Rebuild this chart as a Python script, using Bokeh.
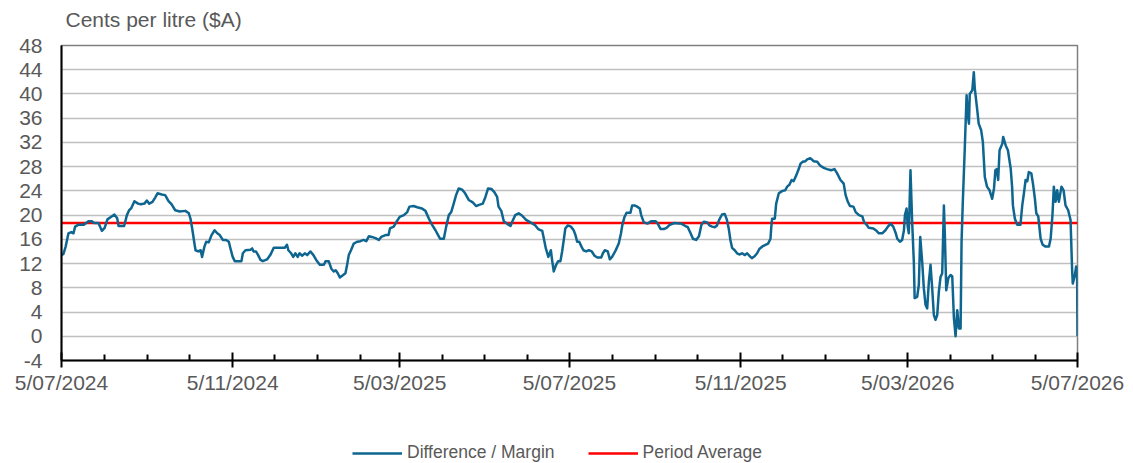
import pandas as pd
from bokeh.plotting import figure
from bokeh.layouts import column
from bokeh.models import (Range1d, FixedTicker, CustomJSTickFormatter, Legend,
                          LegendItem, Label)
from bokeh.embed import file_html
from bokeh.resources import INLINE

# ---------------- data ----------------
start_date = "2024-07-05"
end_date = "2026-07-05"

day_offset = [
    0, 1.4, 3, 5, 7, 8.6, 9.8, 12, 16, 19.4, 21.8, 23.4, 26.6, 29, 31, 33, 35.5, 38, 40, 41,
    45, 47, 48.6, 50, 52.4, 55, 57, 59.6, 61.3, 63, 65.4, 67.3, 69, 72, 74.5, 76.9, 79, 81.7, 85, 89,
    91.5, 92.7, 93.9, 95, 96.3, 98.2, 100, 101, 102.7, 104, 105.8, 107.8, 110, 111.9, 113.7, 115.9,
    118.3, 120.2, 121.4, 123, 124.5, 129.3, 130.3, 132.2, 135.8, 137, 138, 139.7, 141.3, 143, 144.6,
    147.8, 150, 152.5, 156, 160.4, 162, 163, 165, 166.5, 168, 169.7, 171, 173, 174.8, 176.5, 178.9,
    181, 183, 185.6, 188.5, 189.7, 192, 193.8, 195.6, 197, 198.5, 200, 201.7, 204, 205, 206.4, 208,
    210, 212.4, 214.8, 217, 219, 220.8, 223, 225.6, 228, 229.7, 232.8, 235, 236, 238.7, 240.7, 243,
    246, 248.4, 250, 253, 255.6, 259, 261.5, 264, 266.3, 268.7,
    270.6, 272, 274.7, 276.4, 278.3, 280, 281.8, 283.5, 285.4, 287.9, 290, 292.6, 295.5, 298, 300,
    302.7, 304.6, 306.5, 309, 311, 313, 314, 316, 317.8, 320, 322.6, 324, 326, 328.5, 331, 333.8,
    337, 340, 342.5, 345.4, 346.6, 348, 349.8, 350.8, 351.6, 352.6, 353.7, 355.4, 356.9, 358.5,
    359.7, 361, 362,
    363.8, 366, 368, 369.3, 370.5, 372, 373.6, 375, 377, 378.9, 381, 383, 385, 387.8, 389, 390.4,
    392.5, 394, 395.6, 398, 400.4, 402, 403, 404.5, 406, 408.8, 410, 411.7, 413.6, 415.5, 416.5,
    418.4, 421, 423.6, 426.8, 428.4, 430.4, 432.8, 434.7, 437, 440.4, 443.5, 445.2, 448.3,
    450, 452, 453.7, 456, 458, 459.8, 461.5, 464, 465.5, 467.5, 469.4, 471, 472.7, 474.6, 476.5,
    478, 479.4, 480.6, 481.8, 483.7, 485.4, 487, 489, 491, 492.6, 495, 496, 498, 499.8, 501.4, 504,
    505.8, 507.7, 509.4, 510, 510.6, 512.5, 513.5, 515.4, 518, 520, 521.4, 523, 524.6, 526, 528,
    529.7, 531, 532.6, 534.5, 535.8, 538,
    540.5, 543, 545, 547.7, 550, 553, 555.4, 557.3, 559.7, 562, 563.4, 565, 566.5, 569, 570.6, 573,
    575.4, 576.6, 578.5, 580, 583.3, 585.6, 587.3, 589.7, 592, 593.8, 595.7, 597.6, 599.3, 600.5,
    602.4, 604, 605.3, 606, 607.2, 608, 608.8, 610, 611.2, 612.4, 613, 614.8, 616, 617, 618.4,
    619.6, 620.8, 622, 623.2, 624.4, 625.6, 626.8, 628, 629.2, 630.4, 631.6,
    632.8, 634, 634.7, 635.7, 637.2, 638.8, 640, 641.2, 642.4, 643.6, 644.8, 646, 646.7, 647.6, 649,
    650.3, 651.2, 652, 652.6, 654.4, 655.5, 656.2, 658, 659, 660.8, 662, 663.4, 665, 666.8, 668.7,
    670, 671, 672, 673, 674, 676, 676.6, 678.4, 680, 682, 683, 683.6, 685, 686.7, 689, 690.3, 691.5,
    692.7, 693.9, 695, 696.8, 698, 699.4, 700.4, 701.8, 703.5, 705, 707, 709.5, 710.7, 712, 713,
    714.2, 715.4, 716.6, 718.5, 720, 721.4, 723.3, 725, 726.1, 726.6, 728, 729, 729.7, 730,
]

margin_values = [
    13.4, 13.6, 14.8, 17.0, 17.2, 17.0, 18.1, 18.4, 18.4, 19.0, 19.0, 18.7, 18.7, 17.4, 17.9, 19.3,
    19.7, 20.1, 19.5, 18.2, 18.2, 20.0, 20.8, 21.1, 22.3, 21.9, 21.8, 21.9, 22.4, 21.9, 22.2, 22.9,
    23.6, 23.4, 23.3, 22.3, 21.8, 20.8, 20.6, 20.7,
    20.3, 19.4, 17.8, 16.1, 14.2, 14.0, 14.2, 13.1, 14.8, 15.6, 15.5, 16.7, 17.5, 17.0, 16.7, 15.9,
    15.9, 15.6, 14.5, 13.1, 12.4, 12.4, 13.7, 14.2, 14.3, 14.5, 14.0, 14.0, 13.4, 12.6, 12.4,
    12.7, 13.4, 14.6, 14.6, 14.6, 15.1, 14.2, 13.7, 13.1, 13.7, 13.1, 13.7, 13.3, 13.7, 13.4, 14.0,
    13.4, 12.6, 11.8, 11.8, 12.4, 12.4, 11.2, 10.7, 10.9, 10.4, 9.7, 10.0, 10.4, 11.5, 13.4, 14.2,
    15.3, 15.6, 15.7, 15.9, 15.7, 16.5, 16.4, 16.2, 15.9, 16.4, 16.7, 16.7, 17.8, 18.1, 18.9, 19.7,
    20.0, 20.5, 21.4, 21.5, 21.3, 21.1, 20.7, 19.4, 18.4, 17.5,
    16.7, 16.1, 16.1, 18.1, 20.0, 20.5, 21.9, 23.3, 24.4, 24.2, 23.6, 22.5, 22.1, 21.5, 21.7,
    21.9, 23.0, 24.4, 24.3, 23.8, 23.0, 21.4, 20.7, 19.0, 18.6, 18.2, 19.0, 20.0, 20.3, 19.9, 19.2,
    18.8, 18.4, 17.7, 17.4, 16.1, 14.5, 13.1, 13.7, 14.2, 12.4, 10.7, 11.8, 12.4, 12.4,
    14.0, 16.1, 17.8,
    18.3, 18.1, 17.5, 16.7, 15.6, 15.6, 14.8, 14.2, 14.0, 14.2, 14.0, 13.3, 13.0, 13.0, 13.7, 14.2,
    14.0, 12.7, 13.1, 14.1, 15.3, 17.0, 18.4, 19.7, 20.4, 20.4, 21.6, 21.6, 21.4, 21.1, 20.0,
    18.8, 18.6, 19.0, 19.0, 18.6, 17.7, 17.7, 17.9, 18.4, 18.7, 18.6, 18.6, 18.2,
    18.0, 17.0, 16.1, 15.9, 16.5, 18.4, 18.9, 18.8, 18.3, 18.1, 18.0, 18.3, 19.3, 20.1, 20.2,
    19.3, 17.8, 15.9, 14.6, 14.2, 13.7, 13.5, 13.7, 13.4, 13.7, 13.1, 12.9, 13.2, 13.7, 14.4, 14.9,
    15.1, 15.3, 16.1, 18.1, 19.4, 19.4, 21.9, 23.6, 24.0, 24.1, 24.7, 25.0, 25.8, 25.6, 26.6,
    27.6, 28.5, 28.8, 28.9, 29.2, 29.4,
    28.9, 28.8, 28.2, 27.8, 27.6, 27.4, 27.6, 26.9, 25.8, 25.2, 23.3, 22.2, 21.5, 21.4, 20.5, 20.0,
    19.8, 18.9, 18.4, 17.9, 17.8, 17.4, 17.0, 17.0, 17.5, 18.1, 18.6, 18.1, 17.1, 16.1,
    15.6, 15.9, 17.5, 20.0, 21.1, 18.1, 17.0, 27.4, 18.9, 12.3, 6.3, 6.5, 8.5, 16.4, 12.3,
    7.9, 5.2, 4.6, 9.0, 11.8, 7.9, 3.5, 2.7, 3.5, 7.4, 9.8,
    10.4, 21.6, 16.7, 7.6, 9.6, 10.1, 9.9, 3.0, 0.0, 4.3, 1.3, 1.3, 15.6, 22.2, 31.0,
    39.8, 36.5, 35.1, 40.0, 40.6, 43.6, 40.9, 37.3, 35.1, 34.0, 32.1, 26.3, 24.7, 24.1, 22.7,
    24.4, 27.4, 27.6, 25.8, 30.7, 31.8, 32.9, 31.5, 30.7, 27.7, 24.7, 21.6, 19.4, 18.4, 18.4, 21.6, 23.6,
    25.8, 25.6, 27.1, 26.9, 25.2, 22.7, 20.3, 19.8, 16.1, 15.1, 14.8, 14.8, 16.1, 20.0, 24.7,
    22.2, 24.1, 22.2, 24.7, 24.1, 21.6, 20.8, 19.2, 11.2, 8.7, 9.9, 11.5, 11.2, 0.0,
]

period_average = 18.7

major_tick_dates = ["2024-07-05", "2024-11-05", "2025-03-05", "2025-07-05",
                    "2025-11-05", "2026-03-05", "2026-07-05"]
y_ticks = list(range(-4, 49, 4))

series_label = "Difference / Margin"
average_label = "Period Average"
y_title = "Cents per litre ($A)"

# ---------------- build ----------------
t0 = pd.Timestamp(start_date)
t1 = pd.Timestamp(end_date)
x = t0 + pd.to_timedelta(day_offset, unit="D")

def ms(ts):
    return pd.Timestamp(ts).value / 1e6

major_ms = [ms(d) for d in major_tick_dates]
minor_ms = [ms(d + pd.Timedelta(days=4)) for d in pd.date_range(t0, t1, freq="MS")]
minor_ms = [m for m in minor_ms if m not in major_ms]

FONT = "Liberation Sans"
GREY = "#595959"
BLUE = "#0e6690"
RED = "#ff0000"
W = 1125
BL, BR = 61, 48

# ---------------- title strip ----------------
tf = figure(width=W, height=33, output_backend="svg", toolbar_location=None,
            x_axis_location=None, y_axis_location=None,
            x_range=Range1d(0, 1), y_range=Range1d(0, 1),
            min_border_left=BL, min_border_right=BR,
            min_border_top=0, min_border_bottom=0,
            background_fill_color="white", border_fill_color="white")
tf.outline_line_color = None
tf.grid.visible = False
tf.add_layout(Label(x=4, y=14, x_units="screen", y_units="screen",
                    text=y_title, text_font=FONT, text_font_size="21px",
                    text_color=GREY, text_baseline="middle", text_align="left"))

# ---------------- main chart ----------------
p = figure(width=W, height=367, x_axis_type="datetime",
           output_backend="svg", toolbar_location=None,
           x_range=Range1d(t0, t1), y_range=Range1d(-4, 48),
           min_border_left=BL, min_border_right=BR,
           min_border_top=12, min_border_bottom=40,
           background_fill_color="white", border_fill_color="white")

p.outline_line_color = "#7f7f7f"
p.outline_line_width = 1.5

p.xgrid.visible = False
p.ygrid.ticker = FixedTicker(ticks=y_ticks)
p.ygrid.grid_line_color = "#c0c0c0"
p.ygrid.grid_line_width = 1.5

yax = p.yaxis[0]
yax.ticker = FixedTicker(ticks=y_ticks)
yax.axis_line_color = "black"
yax.axis_line_width = 2
yax.major_tick_line_color = None
yax.minor_tick_line_color = None
yax.major_tick_in = 0
yax.major_tick_out = 0
yax.minor_tick_in = 0
yax.minor_tick_out = 0
yax.major_label_standoff = 19
yax.major_label_overrides = {-4: "-4"}
yax.major_label_text_font = FONT
yax.major_label_text_font_size = "21px"
yax.major_label_text_color = GREY

xax = p.xaxis[0]
xax.ticker = FixedTicker(ticks=major_ms, minor_ticks=minor_ms)
xax.formatter = CustomJSTickFormatter(code="""
const d = new Date(tick);
const m = String(d.getUTCMonth() + 1).padStart(2, '0');
return d.getUTCDate() + '/' + m + '/' + d.getUTCFullYear();
""")
xax.axis_line_color = "black"
xax.axis_line_width = 2
xax.major_tick_line_color = "black"
xax.major_tick_line_width = 2
xax.major_tick_in = 8
xax.major_tick_out = 7
xax.minor_tick_line_color = "black"
xax.minor_tick_line_width = 2
xax.minor_tick_in = 6
xax.minor_tick_out = 0
xax.major_label_standoff = 3
xax.major_label_text_font = FONT
xax.major_label_text_font_size = "21px"
xax.major_label_text_color = GREY

p.line([t0, t1], [period_average, period_average],
       line_color=RED, line_width=2.5)
p.line(x, margin_values, line_color=BLUE, line_width=2.5, line_join="round")

# ---------------- legend strip ----------------
lf = figure(width=W, height=63, output_backend="svg", toolbar_location=None,
            x_axis_location=None, y_axis_location=None,
            x_range=Range1d(t0, t1), y_range=Range1d(-4, 48),
            min_border_left=BL, min_border_right=BR,
            min_border_top=0, min_border_bottom=0,
            background_fill_color="white", border_fill_color="white")
lf.outline_line_color = None
lf.grid.visible = False
# hidden copies of the two series, used only for the legend swatches
l_main = lf.line(x, margin_values, line_color=BLUE, line_width=2.5, visible=False)
l_avg = lf.line([t0, t1], [period_average, period_average],
                line_color=RED, line_width=2.5, visible=False)

legend = Legend(items=[LegendItem(label=series_label, renderers=[l_main]),
                       LegendItem(label=average_label, renderers=[l_avg])],
                orientation="horizontal", location=(291, 0),
                glyph_width=50, glyph_height=16, label_standoff=5, spacing=33,
                padding=0, margin=0, border_line_color=None,
                background_fill_alpha=0, inactive_fill_alpha=0,
                label_text_font=FONT, label_text_font_size="17.5px",
                label_text_color=GREY)
lf.add_layout(legend)

layout = column(tf, p, lf, spacing=0)

open("out.html", "w").write(file_html(layout, INLINE))
